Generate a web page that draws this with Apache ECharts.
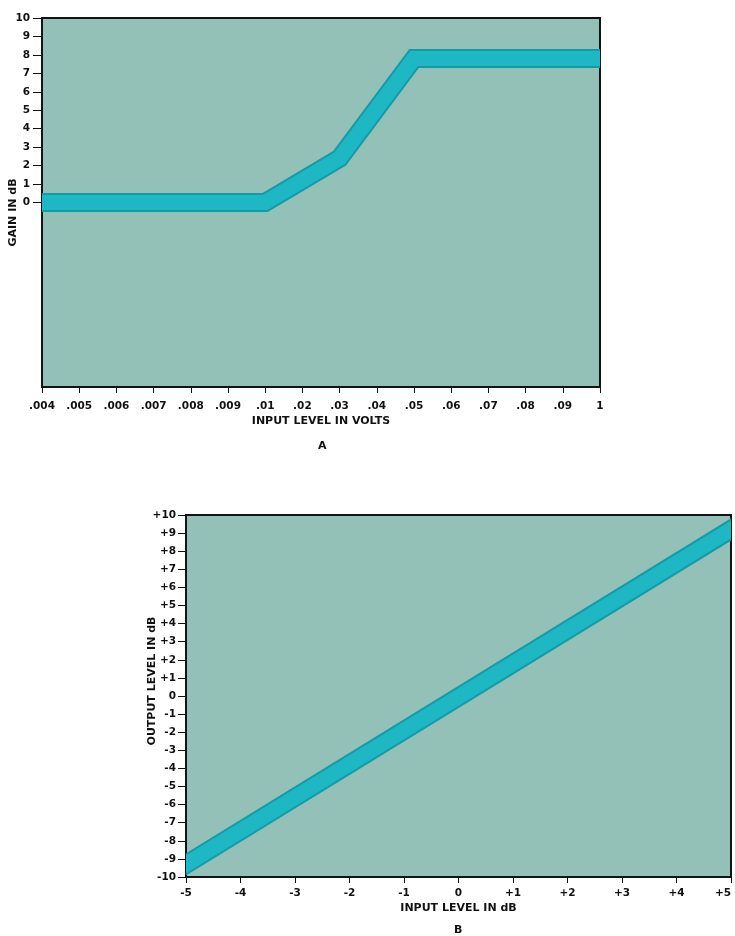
<!DOCTYPE html>
<html>
<head>
<meta charset="utf-8">
<script src="https://cdn.jsdelivr.net/npm/echarts@6/dist/echarts.min.js"></script>
<style>
  html, body { margin: 0; padding: 0; background: #fff; }
  #chart { width: 735px; height: 936px; }
</style>
</head>
<body>
<div id="chart"></div>
<script>
// chart A: gain vs input level (volts), categories are evenly spaced on the scale
const voltLabels = ['.004', '.005', '.006', '.007', '.008', '.009', '.01', '.02', '.03', '.04', '.05', '.06', '.07', '.08', '.09', '1'];
const gainTicks = ['0', '1', '2', '3', '4', '5', '6', '7', '8', '9', '10'];
const gainPoints = [['.004', 0], ['.01', 0], ['.03', 2.4], ['.05', 7.8], ['1', 7.8]];

// chart B: output level vs input level (dB)
const inputTicksB = ['-5', '-4', '-3', '-2', '-1', '0', '+1', '+2', '+3', '+4', '+5'];
const outputTicksB = ['-10', '-9', '-8', '-7', '-6', '-5', '-4', '-3', '-2', '-1', '0', '+1', '+2', '+3', '+4', '+5', '+6', '+7', '+8', '+9', '+10'];
const linePointsB = [[-5, -9.3], [5, 9.2]];

const plotBg = '#93c0b7';
const bandEdge = '#139ca8';
const bandFill = '#1eb7c4';
const ink = '#111';
const font = 'DejaVu Sans';

const labelStyle = { color: ink, fontFamily: font, fontSize: 10.5, fontWeight: 'bold' };
const nameStyle = { color: ink, fontFamily: font, fontSize: 11, fontWeight: 'bold' };

// thick band drawn as a polyline, clipped exactly to the plot area
function band(xi, yi, pts, toX) {
  return {
    type: 'custom',
    xAxisIndex: xi,
    yAxisIndex: yi,
    clip: true,
    data: [[0, 0]],
    renderItem: function (params, api) {
      const p = pts.map(d => api.coord([toX(d[0]), d[1]]));
      // stretch the ends a bit so the clip cuts them flush with the frame
      const ext = (a, b) => {
        const dx = a[0] - b[0], dy = a[1] - b[1];
        const len = Math.sqrt(dx * dx + dy * dy) || 1;
        return [a[0] + dx / len * 14, a[1] + dy / len * 14];
      };
      const n = p.length;
      const points = [ext(p[0], p[1])].concat(p.slice(1, n - 1), [ext(p[n - 1], p[n - 2])]);
      return {
        type: 'group',
        children: [
          { type: 'polyline', shape: { points: points }, style: { stroke: bandEdge, lineWidth: 19, fill: null, lineJoin: 'miter' } },
          { type: 'polyline', shape: { points: points }, style: { stroke: bandFill, lineWidth: 15, fill: null, lineJoin: 'miter' } }
        ]
      };
    }
  };
}

const chart = echarts.init(document.getElementById('chart'));

chart.setOption({
  backgroundColor: '#fff',
  animation: false,
  title: [
    { text: 'A', left: 313, top: 436, textStyle: { color: ink, fontFamily: font, fontSize: 11, fontWeight: 'bold' } },
    { text: 'B', left: 449, top: 920, textStyle: { color: ink, fontFamily: font, fontSize: 11, fontWeight: 'bold' } }
  ],
  grid: [
    { left: 42, top: 18, right: 135, bottom: 549, containLabel: false, outerBoundsMode: 'none', show: true, backgroundColor: plotBg, borderColor: '#141414', borderWidth: 2 },
    { left: 186, top: 515, right: 4, bottom: 59, containLabel: false, outerBoundsMode: 'none', show: true, backgroundColor: plotBg, borderColor: '#141414', borderWidth: 2 }
  ],
  xAxis: [
    {
      gridIndex: 0,
      type: 'category',
      data: voltLabels,
      boundaryGap: false,
      name: 'INPUT LEVEL IN VOLTS',
      nameLocation: 'middle',
      nameGap: 29,
      nameMoveOverlap: false,
      nameTextStyle: nameStyle,
      axisLine: { onZero: false, lineStyle: { color: '#141414', width: 2 } },
      axisTick: { length: 6, interval: 0, lineStyle: { color: ink } },
      axisLabel: Object.assign({ interval: 0, margin: 14 }, labelStyle),
      splitLine: { show: false }
    },
    {
      gridIndex: 1,
      type: 'value',
      min: -5,
      max: 5,
      interval: 1,
      name: 'INPUT LEVEL IN dB',
      nameLocation: 'middle',
      nameGap: 26,
      nameMoveOverlap: false,
      nameTextStyle: nameStyle,
      axisLine: { onZero: false, lineStyle: { color: '#141414', width: 2 } },
      axisTick: { length: 6, lineStyle: { color: ink } },
      axisLabel: Object.assign({
        margin: 11,
        alignMaxLabel: 'right',
        formatter: v => inputTicksB[Math.round(v + 5)]
      }, labelStyle),
      splitLine: { show: false }
    }
  ],
  yAxis: [
    {
      gridIndex: 0,
      type: 'value',
      min: -10,
      max: 10,
      interval: 1,
      name: 'GAIN IN dB',
      nameLocation: 'middle',
      nameGap: 23,
      nameMoveOverlap: false,
      nameTextStyle: Object.assign({ padding: [0, 20, 0, 0] }, nameStyle),
      axisLine: { show: true, onZero: false, lineStyle: { color: '#141414', width: 2 } },
      axisTick: { show: true, length: 9, customValues: gainTicks.map(Number), lineStyle: { color: ink } },
      axisLabel: Object.assign({
        margin: 12,
        customValues: gainTicks.map(Number),
        formatter: v => gainTicks[Math.round(v)]
      }, labelStyle),
      splitLine: { show: false }
    },
    {
      gridIndex: 1,
      type: 'value',
      min: -10,
      max: 10,
      interval: 1,
      name: 'OUTPUT LEVEL IN dB',
      nameLocation: 'middle',
      nameGap: 28,
      nameMoveOverlap: false,
      nameTextStyle: Object.assign({ padding: [0, 0, 0, 30] }, nameStyle),
      axisLine: { show: true, onZero: false, lineStyle: { color: '#141414', width: 2 } },
      axisTick: { show: true, length: 8, lineStyle: { color: ink } },
      axisLabel: Object.assign({
        margin: 10,
        formatter: v => outputTicksB[Math.round(v + 10)]
      }, labelStyle),
      splitLine: { show: false }
    }
  ],
  series: [
    band(0, 0, gainPoints, x => voltLabels.indexOf(x)),
    band(1, 1, linePointsB, x => x)
  ]
});
</script>
</body>
</html>
